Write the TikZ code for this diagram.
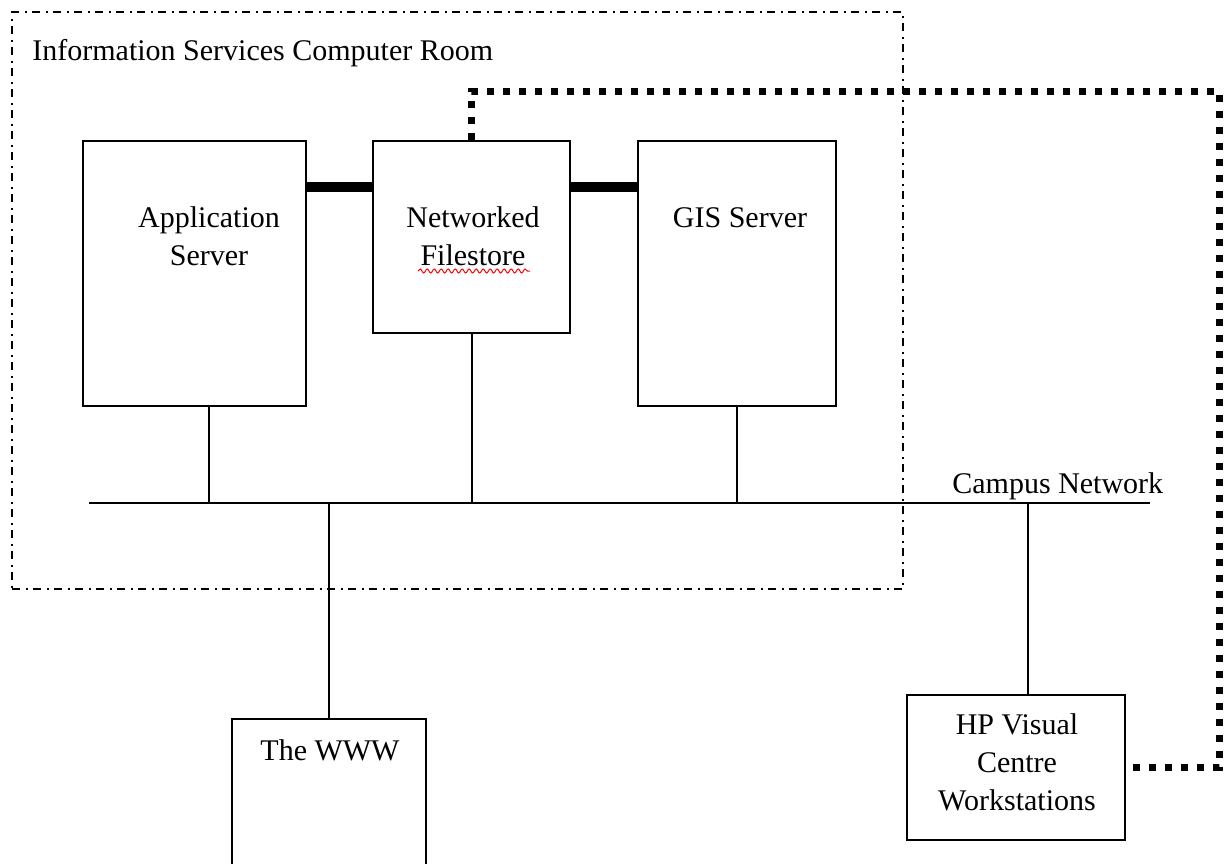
\documentclass[tikz,border=0pt]{standalone}
\usepackage{fontspec}
\setmainfont{Liberation Serif}
\usetikzlibrary{decorations.pathmorphing}

\begin{document}
\begin{tikzpicture}[x=0.5pt, y=-0.5pt,
        box/.style={draw, line width=1pt, inner sep=0pt},
        txt/.style={font=\fontsize{15}{19}\selectfont, align=center, inner sep=0pt},
        wire/.style={line width=1pt},
        link/.style={line width=5pt},
        fibre/.style={line width=3.5pt, dash pattern=on 3.5pt off 4.5pt},
        roomline/.style={line width=1pt, dash pattern=on 4pt off 2.75pt on 1pt off 2.75pt}]
        \useasboundingbox (0,0) rectangle (1231,863);

        % Computer room
        \node[draw, roomline, inner sep=0pt, minimum width=445.5pt, minimum height=288.5pt] (room) at (457.5,300.5) {};
        \node[txt, anchor=base west] (roomlbl) at (32,60) {Information Services Computer Room};

        % Servers
        \node[box, minimum width=111.5pt, minimum height=132.5pt] (app) at (194.5,273.5) {};
        \node[box, minimum width=98.5pt, minimum height=96pt] (store) at (471.5,237) {};
        \node[box, minimum width=99pt, minimum height=132.5pt] (gis) at (737,273.5) {};
        \node[txt, anchor=base] (applbl) at (209,265) {Application\\Server};
        \node[txt, anchor=base] (storelbl) at (473,265) {Networked\\Filestore};
        \node[txt, anchor=base] (gislbl) at (740,227) {GIS Server};
        \draw[red, line width=0.5pt, decorate, decoration={snake, amplitude=1pt, segment length=3.5pt}] (418,271) -- (530,271);

        % Outside
        \node[box, minimum width=97pt, minimum height=75pt] (www) at (329,794) {};
        \node[box, minimum width=109pt, minimum height=72.5pt] (hp) at (1016,767.5) {};
        \node[txt, anchor=base] (wwwlbl) at (330,760) {The WWW};
        \node[txt, anchor=base] (hplbl) at (1017,810) {HP Visual\\Centre\\Workstations};

        % Campus network
        \coordinate (netW) at (89,503);
        \coordinate (netE) at (1150,503);
        \draw[wire] (netW) -- (netE);
        \node[txt, anchor=base west] (netlbl) at (952,493) {Campus Network};

        \draw[wire] (applbl |- app.south) -- (applbl |- netW);
        \draw[wire] (store.south) -- (store.south |- netW);
        \draw[wire] (gis.south) -- (gis.south |- netW);
        \draw[wire] (www.north |- netW) -- (www.north);
        \draw[wire] ([xshift=6pt]hp.north |- netW) -- ([xshift=6pt]hp.north);

        % Filestore links
        \draw[link] ([yshift=-23.5pt]app.north east) -- ([yshift=-23.5pt]store.north west);
        \draw[link] ([yshift=-23.5pt]store.north east) -- ([yshift=-23.5pt]gis.north west);

        % Dedicated link to the workstations
        \coordinate (hook) at (1219,91);
        \draw[fibre] (store.north) |- (hook) |- (hp.east);

    \end{tikzpicture}
\end{document}
